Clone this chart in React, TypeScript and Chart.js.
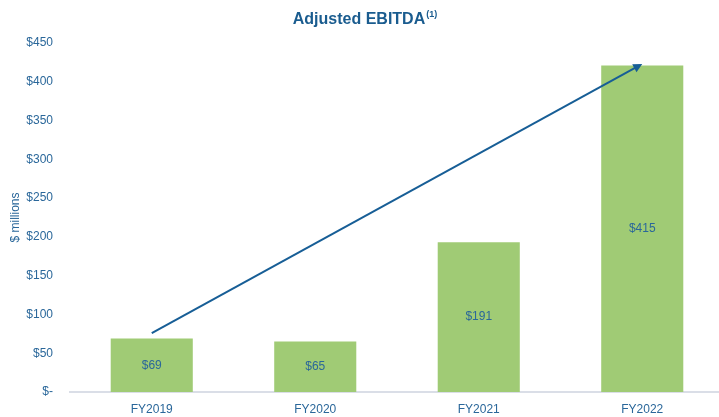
import React, { useEffect, useRef } from "react";
import { Chart, registerables } from "chart.js";

Chart.register(...registerables);

const categories = ["FY2019", "FY2020", "FY2021", "FY2022"];
const ebitdaValues = [69, 65, 193, 421];
const valueLabels = ["$69", "$65", "$191", "$415"];
const yTicks = [0, 50, 100, 150, 200, 250, 300, 350, 400, 450];
const arrowStart = { index: 0, value: 76 };
const arrowEnd = { index: 3, value: 423 };

const FONT = "'Liberation Sans', Arial, Helvetica, sans-serif";
const TEXT_BLUE = "#2a679a";
const GREEN = "#a0cb75";

const titlePlugin = {
  id: "customTitle",
  afterDraw(chart: any) {
    const ctx = chart.ctx;
    ctx.save();
    ctx.fillStyle = "#1a5c8f";
    ctx.textBaseline = "alphabetic";
    ctx.font = `bold 16px ${FONT}`;
    const main = "Adjusted EBITDA";
    const mw = ctx.measureText(main).width;
    ctx.font = `bold 9px ${FONT}`;
    const sup = "(1)";
    const sw = ctx.measureText(sup).width;
    const total = mw + 1 + sw;
    const x0 = chart.width / 2 - total / 2;
    ctx.font = `bold 16px ${FONT}`;
    ctx.textAlign = "left";
    ctx.fillText(main, x0, 24);
    ctx.font = `bold 9px ${FONT}`;
    ctx.fillText(sup, x0 + mw + 1, 17);
    ctx.restore();
  },
};

const labelPlugin = {
  id: "barLabels",
  afterDatasetsDraw(chart: any) {
    const ctx = chart.ctx;
    const meta = chart.getDatasetMeta(0);
    ctx.save();
    ctx.font = `12px ${FONT}`;
    ctx.fillStyle = TEXT_BLUE;
    ctx.textAlign = "center";
    ctx.textBaseline = "middle";
    meta.data.forEach((bar: any, i: number) => {
      const { x, y, base } = bar.getProps(["x", "y", "base"], true);
      ctx.fillText(valueLabels[i], x, (y + base) / 2);
    });
    ctx.restore();
  },
};

const arrowPlugin = {
  id: "trendArrow",
  afterDatasetsDraw(chart: any) {
    const ctx = chart.ctx;
    const xs = chart.scales.x;
    const ys = chart.scales.y;
    const x1 = xs.getPixelForValue(arrowStart.index);
    const y1 = ys.getPixelForValue(arrowStart.value);
    const x2 = xs.getPixelForValue(arrowEnd.index);
    const y2 = ys.getPixelForValue(arrowEnd.value);
    const ang = Math.atan2(y2 - y1, x2 - x1);
    const headLen = 9;
    const headW = 4.5;
    ctx.save();
    ctx.strokeStyle = "#175e96";
    ctx.fillStyle = "#175e96";
    ctx.lineWidth = 2;
    ctx.beginPath();
    ctx.moveTo(x1, y1);
    ctx.lineTo(x2 - Math.cos(ang) * headLen * 0.8, y2 - Math.sin(ang) * headLen * 0.8);
    ctx.stroke();
    const bx = x2 - Math.cos(ang) * headLen;
    const by = y2 - Math.sin(ang) * headLen;
    ctx.beginPath();
    ctx.moveTo(x2, y2);
    ctx.lineTo(bx + Math.sin(ang) * headW, by - Math.cos(ang) * headW);
    ctx.lineTo(bx - Math.sin(ang) * headW, by + Math.cos(ang) * headW);
    ctx.closePath();
    ctx.fill();
    ctx.restore();
  },
};

export default function App() {
  const ref = useRef<HTMLCanvasElement | null>(null);
  useEffect(() => {
    if (!ref.current) return;
    const chart = new Chart(ref.current, {
      type: "bar",
      data: {
        labels: categories,
        datasets: [
          {
            data: ebitdaValues,
            backgroundColor: GREEN,
            borderWidth: 0,
            categoryPercentage: 1,
            barPercentage: 0.502,
          },
        ],
      },
      options: {
        animation: false,
        responsive: false,
        maintainAspectRatio: false,
        layout: { padding: { top: 43, right: 6, left: 0, bottom: 0 } },
        plugins: {
          legend: { display: false },
          tooltip: { enabled: false },
          title: { display: false },
        },
        scales: {
          x: {
            afterFit(axis: any) {
              axis.height = 25;
            },
            grid: { display: false, drawTicks: false },
            border: { display: true, color: "#dadee7", width: 2 },
            ticks: {
              color: TEXT_BLUE,
              font: { family: FONT, size: 12 },
              padding: 10,
            },
          },
          y: {
            min: 0,
            max: 450,
            afterFit(axis: any) {
              axis.width = 70;
            },
            afterBuildTicks(axis: any) {
              axis.ticks = yTicks.map((v) => ({ value: v }));
            },
            grid: { display: false, drawTicks: false },
            border: { display: false },
            ticks: {
              color: TEXT_BLUE,
              font: { family: FONT, size: 12 },
              padding: 17,
              callback: (v: any) => (Number(v) === 0 ? "$-" : "$" + v),
            },
            title: {
              display: true,
              text: "$ millions",
              color: TEXT_BLUE,
              font: { family: FONT, size: 12 },
              padding: { top: 8, bottom: 0 },
            },
          },
        },
      },
      plugins: [labelPlugin, arrowPlugin, titlePlugin],
    });
    return () => chart.destroy();
  }, []);
  return (
    <div
      style={{
        position: "fixed",
        left: 0,
        top: 0,
        width: 719,
        height: 417,
        overflow: "hidden",
        background: "#fff",
      }}
    >
      <canvas ref={ref} width={730} height={417} style={{ display: "block" }} />
    </div>
  );
}
